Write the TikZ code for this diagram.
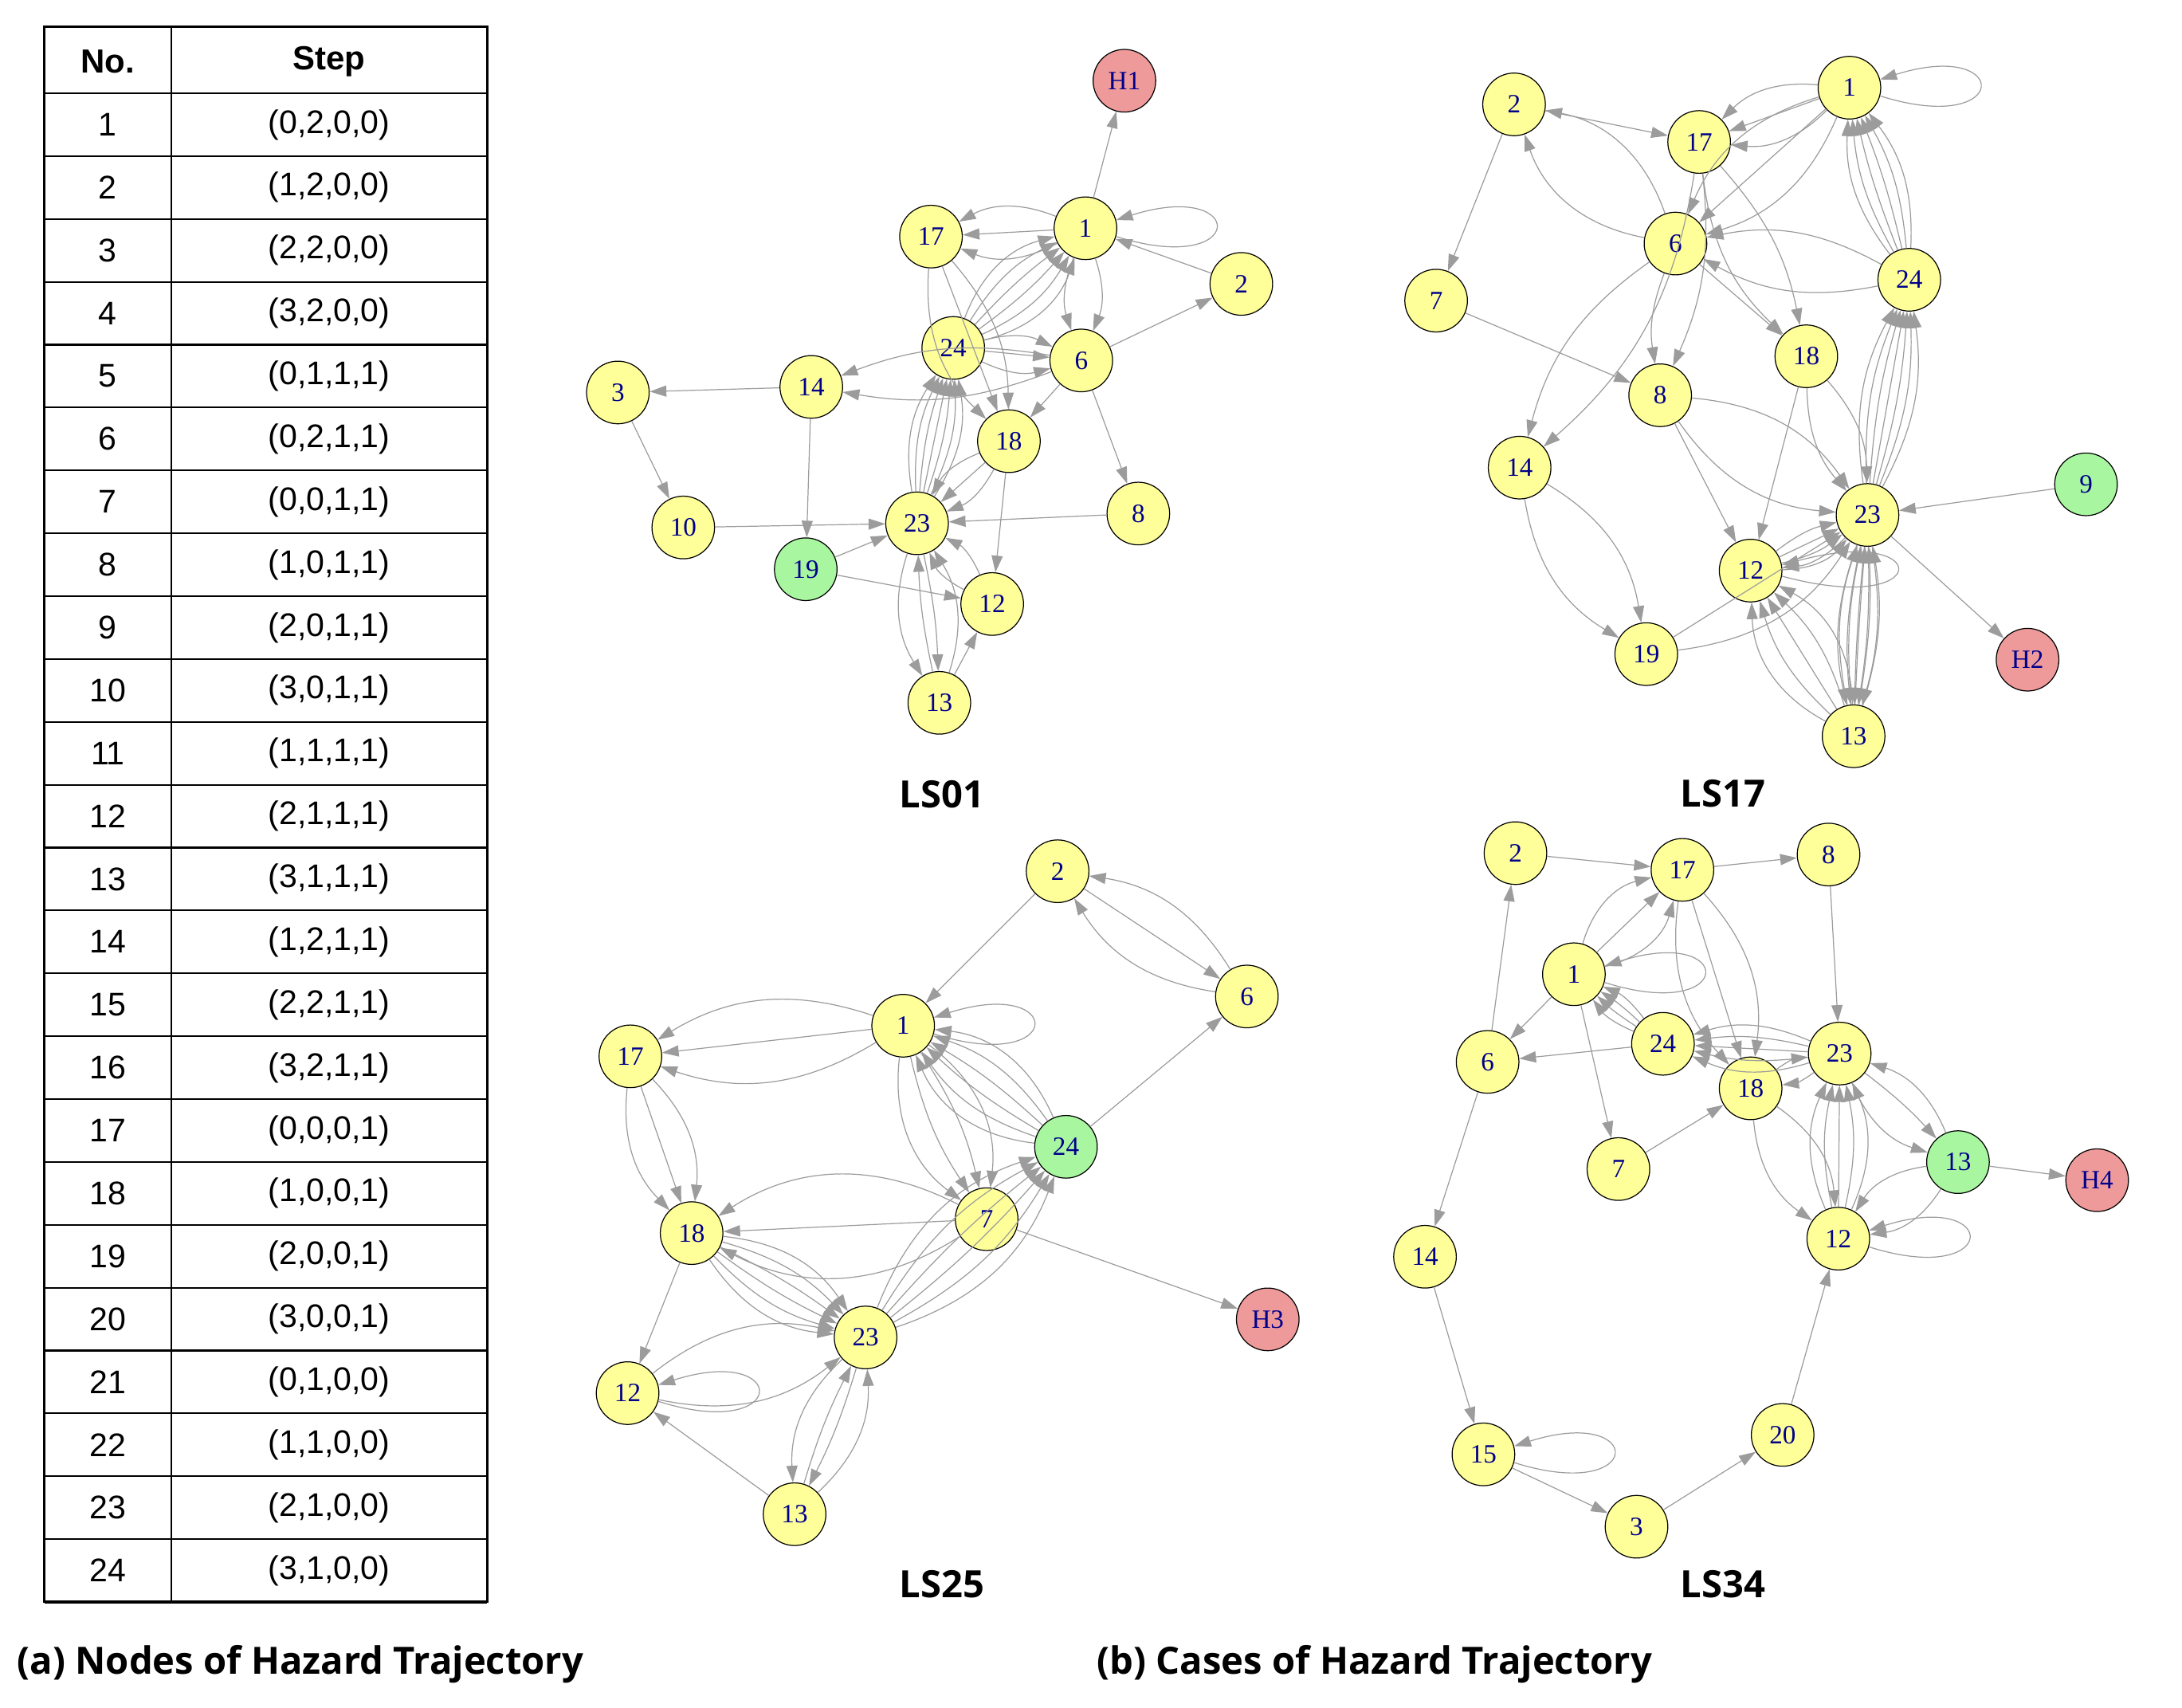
\documentclass[tikz,border=0pt]{standalone}
\usepackage{fontspec}
\setmainfont{Liberation Serif}
\newfontfamily\tabfont{Liberation Sans}
\newfontfamily\capfont{Open Sans}[BoldFont={Open Sans Bold}]
\usetikzlibrary{arrows.meta}

\definecolor{nodeyellow}{HTML}{FFFF99}
\definecolor{nodegreen}{HTML}{A8F7A0}
\definecolor{nodered}{HTML}{EF9A9A}
\definecolor{edgegray}{HTML}{9C9C9C}
\definecolor{labelblue}{HTML}{00008B}

\tikzset{
  state/.style={circle, draw=black, line width=0.7pt, minimum size=45pt, inner sep=0pt,
    text=labelblue, font=\fontsize{19}{19}\selectfont},
  yel/.style={state, fill=nodeyellow},
  grn/.style={state, fill=nodegreen},
  haz/.style={state, fill=nodered},
  link/.style={draw=edgegray, line width=0.7pt, -{Triangle[length=12pt,width=8pt]}},
  cell/.style={font=\tabfont\fontsize{23.5}{23.5}\selectfont},
  headcell/.style={font=\tabfont\bfseries\fontsize{24}{24}\selectfont},
  graphtitle/.style={font=\capfont\bfseries\fontsize{27}{27}\selectfont},
}

\begin{document}
\begin{tikzpicture}[x=1pt,y=-1pt]
  \useasboundingbox (0,0) rectangle (1568,1227);

  % table of nodes
  \draw[line width=1.6pt] (32,19) rectangle (350,1151);
  \draw[line width=1.2pt] (123,19) -- (123,1151);
  \draw[line width=1.2pt] (32,67) -- (350,67);
  \node[headcell] (nohead) at (77.5,44) {No.};
  \node[headcell] (stephead) at (236.5,44) {Step};
  \foreach \i/\s in {1/{(0,2,0,0)},2/{(1,2,0,0)},3/{(2,2,0,0)},4/{(3,2,0,0)},
      5/{(0,1,1,1)},6/{(0,2,1,1)},7/{(0,0,1,1)},8/{(1,0,1,1)},9/{(2,0,1,1)},
      10/{(3,0,1,1)},11/{(1,1,1,1)},12/{(2,1,1,1)},13/{(3,1,1,1)},14/{(1,2,1,1)},
      15/{(2,2,1,1)},16/{(3,2,1,1)},17/{(0,0,0,1)},18/{(1,0,0,1)},19/{(2,0,0,1)},
      20/{(3,0,0,1)},21/{(0,1,0,0)},22/{(1,1,0,0)},23/{(2,1,0,0)},24/{(3,1,0,0)}} {
    \node[cell] (no\i) at (77.5,{67+45.17*(\i-0.5)}) {\i};
    \node[cell] (step\i) at (236.5,{67+45.17*(\i-0.5)}) {\s};
    \draw[line width=1.2pt] (32,{67+45.17*\i}) -- (350,{67+45.17*\i});
  }
  \draw[line width=2.2pt] (32,1151) -- (350,1151);

  % LS01
  \foreach \n/\x/\y in {1/780/164,17/669/170,2/892/204,24/685/250,6/777/259,
      3/444/282,14/583/278,18/725/317,10/491/379,23/659/376,8/818/369,
      12/713/434,13/675/505}
    \node[yel] (a\n) at (\x,\y) {\n};
  \node[grn] (a19) at (579,409) {19};
  \node[haz] (aH1) at (808,58) {H1};
  \draw[link] (a1) -- (aH1);
  \foreach \b in {-25,0,25} \draw[link] (a1) to[bend left=\b] (a17);
  \draw[link] (a1.-15) .. controls +(95,30) and +(95,-30) .. (a1.15);
  \draw[link] (a2) -- (a1);
  \foreach \b in {-20,20} \draw[link] (a1) to[bend left=\b] (a6);
  \foreach \b in {-28,-17,-6,5,16,27} \draw[link] (a24) to[bend left=\b] (a1);
  \foreach \b in {-25,0,20} \draw[link] (a17) to[bend left=\b] (a18);
  \foreach \b in {-20,0,20} \draw[link] (a24) to[bend left=\b] (a6);
  \foreach \b in {-15,15} \draw[link] (a6) to[bend left=\b] (a14);
  \draw[link] (a14) -- (a3);
  \draw[link] (a3) -- (a10);
  \draw[link] (a14) -- (a19);
  \draw[link] (a10) -- (a23);
  \draw[link] (a19) -- (a23);
  \draw[link] (a19) -- (a12);
  \draw[link] (a8) -- (a23);
  \draw[link] (a6) -- (a8);
  \draw[link] (a6) -- (a18);
  \draw[link] (a6) -- (a2);
  \foreach \b in {-20,0,20} \draw[link] (a18) to[bend left=\b] (a23);
  \draw[link] (a18) -- (a12);
  \foreach \b in {-20,20} \draw[link] (a12) to[bend left=\b] (a23);
  \foreach \b in {-21,-14,-7,0,7,14,21} \draw[link] (a23) to[bend left=\b] (a24);
  \foreach \b in {-25,5} \draw[link] (a23) to[bend left=\b] (a13);
  \foreach \b in {-25,5} \draw[link] (a13) to[bend left=\b] (a23);
  \draw[link] (a13) -- (a12);
  \node[graphtitle] (titleA) at (677,571) {LS01};

  % LS17
  \foreach \n/\x/\y in {1/1329/63,2/1088/75,17/1221/102,6/1204/175,7/1032/216,
      24/1372/201,18/1298/256,8/1193/284,14/1092/336,23/1342/370,12/1258/410,
      19/1183/470,13/1332/529}
    \node[yel] (b\n) at (\x,\y) {\n};
  \node[grn] (b9) at (1499,348) {9};
  \node[haz] (bH2) at (1457,474) {H2};
  \draw[link] (b1.-15) .. controls +(95,30) and +(95,-30) .. (b1.15);
  \foreach \b in {-25,0,25} \draw[link] (b1) to[bend left=\b] (b17);
  \foreach \b in {-25,0,25} \draw[link] (b1) to[bend left=\b] (b6);
  \foreach \b in {-20,-12,-4,4,12,20} \draw[link] (b24) to[bend left=\b] (b1);
  \draw[link] (b2) -- (b17);
  \foreach \b in {-30,30} \draw[link] (b6) to[bend left=\b] (b2);
  \draw[link] (b2) -- (b7);
  \draw[link] (b7) -- (b8);
  \draw[link] (b6) to[bend right=20] (b14);
  \draw[link] (b17) to[bend left=20] (b14);
  \draw[link] (b6) to[bend right=15] (b8);
  \draw[link] (b17) to[bend left=15] (b8);
  \draw[link] (b6) -- (b18);
  \foreach \b in {-20,15} \draw[link] (b17) to[bend left=\b] (b18);
  \foreach \b in {-20,20} \draw[link] (b24) to[bend left=\b] (b6);
  \foreach \b in {-25,25} \draw[link] (b8) to[bend left=\b] (b23);
  \draw[link] (b8) -- (b12);
  \draw[link] (b18) -- (b12);
  \foreach \b in {-20,20} \draw[link] (b18) to[bend left=\b] (b23);
  \foreach \b in {-18,-12,-6,0,6,12,18} \draw[link] (b23) to[bend left=\b] (b24);
  \draw[link] (b9) -- (b23);
  \draw[link] (b23) -- (bH2);
  \foreach \b in {-24,-12,0,12} \draw[link] (b12) to[bend left=\b] (b23);
  \draw[link] (b23) to[bend left=20] (b12);
  \draw[link] (b12.-10) .. controls +(110,30) and +(110,-30) .. (b12.10);
  \foreach \b in {-25,25} \draw[link] (b14) to[bend left=\b] (b19);
  \draw[link] (b19) -- (b23);
  \draw[link] (b19) to[bend right=25] (b23);
  \foreach \b in {-30,-15,0,15,30} \draw[link] (b13) to[bend left=\b] (b12);
  \foreach \b in {-16,-9,-2,5,12} \draw[link] (b23) to[bend left=\b] (b13);
  \foreach \b in {-13,-6,1,8,15} \draw[link] (b13) to[bend left=\b] (b23);
  \node[graphtitle] (titleB) at (1238,570) {LS17};

  % LS25
  \foreach \n/\x/\y in {2/760/626,6/896/716,1/649/737,17/453/759,7/709/876,
      18/497/886,23/622/961,12/451/1001,13/571/1088}
    \node[yel] (c\n) at (\x,\y) {\n};
  \node[grn] (c24) at (766,824) {24};
  \node[haz] (cH3) at (911,948) {H3};
  \draw[link] (c2) -- (c1);
  \draw[link] (c2) -- (c6);
  \foreach \b in {-25,25} \draw[link] (c6) to[bend left=\b] (c2);
  \draw[link] (c24) -- (c6);
  \draw[link] (c1.-15) .. controls +(95,30) and +(95,-30) .. (c1.15);
  \foreach \b in {-25,0,25} \draw[link] (c1) to[bend left=\b] (c17);
  \foreach \b in {-25,0,25} \draw[link] (c17) to[bend left=\b] (c18);
  \foreach \b in {-30,-10,10,30} \draw[link] (c1) to[bend left=\b] (c7);
  \foreach \b in {-30,-18,-6,6,18,30} \draw[link] (c24) to[bend left=\b] (c1);
  \foreach \b in {-25,-15,-5,5,15,25} \draw[link] (c23) to[bend left=\b] (c24);
  \foreach \b in {-30,0,30} \draw[link] (c7) to[bend left=\b] (c18);
  \draw[link] (c7) -- (cH3);
  \foreach \b in {-25,-15,-5,5,15,25} \draw[link] (c18) to[bend left=\b] (c23);
  \draw[link] (c18) -- (c12);
  \foreach \b in {-25,25} \draw[link] (c12) to[bend left=\b] (c23);
  \draw[link] (c12.-15) .. controls +(95,30) and +(95,-30) .. (c12.15);
  \draw[link] (c13) -- (c12);
  \foreach \b in {-25,5} \draw[link] (c23) to[bend left=\b] (c13);
  \foreach \b in {-25,5} \draw[link] (c13) to[bend left=\b] (c23);
  \node[graphtitle] (titleC) at (677,1138) {LS25};

  % LS34
  \foreach \n/\x/\y in {2/1089/613,17/1209/625,8/1314/614,1/1131/700,24/1195/750,
      6/1069/763,23/1322/757,18/1258/782,7/1163/840,12/1321/890,14/1024/903,
      20/1281/1031,15/1066/1045,3/1176/1097}
    \node[yel] (d\n) at (\x,\y) {\n};
  \node[grn] (d13) at (1407,835) {13};
  \node[haz] (dH4) at (1507,848) {H4};
  \draw[link] (d2) -- (d17);
  \draw[link] (d17) -- (d8);
  \draw[link] (d6) -- (d2);
  \foreach \b in {-30,0,30} \draw[link] (d1) to[bend left=\b] (d17);
  \draw[link] (d1.-15) .. controls +(95,30) and +(95,-30) .. (d1.15);
  \draw[link] (d1) -- (d6);
  \draw[link] (d1) -- (d7);
  \foreach \b in {-15,-5,5,15} \draw[link] (d24) to[bend left=\b] (d1);
  \draw[link] (d24) -- (d6);
  \draw[link] (d8) -- (d23);
  \foreach \b in {-25,0,25} \draw[link] (d17) to[bend left=\b] (d18);
  \foreach \b in {-20,-10,0,10,20} \draw[link] (d23) to[bend left=\b] (d24);
  \draw[link] (d23) to[bend left=15] (d18);
  \draw[link] (d18) to[bend left=15] (d23);
  \draw[link] (d7) -- (d18);
  \draw[link] (d6) -- (d14);
  \draw[link] (d14) -- (d15);
  \draw[link] (d15.-15) .. controls +(95,30) and +(95,-30) .. (d15.15);
  \draw[link] (d15) -- (d3);
  \draw[link] (d3) -- (d20);
  \draw[link] (d20) -- (d12);
  \foreach \b in {-25,25} \draw[link] (d18) to[bend left=\b] (d12);
  \foreach \b in {-24,-12,0,12,24} \draw[link] (d12) to[bend left=\b] (d23);
  \foreach \b in {-25,5} \draw[link] (d23) to[bend left=\b] (d13);
  \draw[link] (d13) to[bend left=-25] (d23);
  \foreach \b in {-25,25} \draw[link] (d13) to[bend left=\b] (d12);
  \draw[link] (d12.-15) .. controls +(95,30) and +(95,-30) .. (d12.15);
  \draw[link] (d13) -- (dH4);
  \node[graphtitle] (titleD) at (1238,1138) {LS34};

  % captions
  \node[graphtitle, anchor=west] (capA) at (9,1196) {(a) Nodes of Hazard Trajectory};
  \node[graphtitle, anchor=west] (capB) at (785,1196) {(b) Cases of Hazard Trajectory};
\end{tikzpicture}
\end{document}
